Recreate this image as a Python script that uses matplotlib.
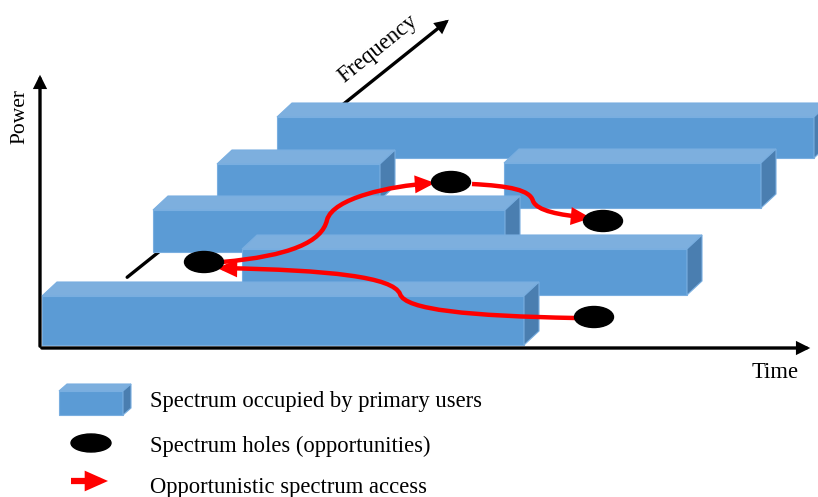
import matplotlib.pyplot as plt
from matplotlib.patches import Polygon, Ellipse, FancyArrowPatch
from matplotlib.path import Path

# Diagram coordinates in pixels (y grows downward)
box_left = [277, 504, 217, 153, 242, 42]
box_right = [814, 761, 380, 505, 687, 524]
box_top = [117, 163, 164, 210, 249, 296]
box_bottom = [158, 208, 200, 252, 295, 345]

hole_x = [204, 451, 603, 594]
hole_y = [262, 182, 221, 317]

# opportunistic access paths: start, ctrl, ctrl, mid, ctrl, ctrl, end
access_paths = [
    [(575, 318), (470, 316), (405, 310), (400, 294), (393, 277), (330, 270), (217, 268)],
    [(222, 262), (290, 256), (322, 242), (327, 220), (333, 198), (390, 186), (435, 183)],
    [(472, 184), (510, 186), (530, 190), (533, 201), (537, 211), (560, 215), (591, 218)],
]

legend_labels = ['Spectrum occupied by primary users',
                 'Spectrum holes (opportunities)',
                 'Opportunistic spectrum access']

FRONT = '#5B9BD5'
TOP = '#7DAFDE'
SIDE = '#4A7EB0'
EDGE = '#79AEE0'


def draw_box(ax, x0, x1, yt, yb, dx=15, dy=14):
    front = [(x0, yt), (x1, yt), (x1, yb), (x0, yb)]
    top = [(x0, yt), (x0 + dx, yt - dy), (x1 + dx, yt - dy), (x1, yt)]
    side = [(x1, yt), (x1 + dx, yt - dy), (x1 + dx, yb - dy), (x1, yb)]
    for pts, c in [(front, FRONT), (top, TOP), (side, SIDE)]:
        ax.add_patch(Polygon(pts, closed=True, facecolor=c, edgecolor=EDGE, lw=0.8, zorder=2))


fig = plt.figure(figsize=(8.18, 4.97), dpi=100)
ax = fig.add_axes([0, 0, 1, 1])
ax.set_xlim(0, 818)
ax.set_ylim(497, 0)
ax.axis('off')

serif = 'Liberation Serif'
fs = 16.3

# axes arrows
axis_arrow = dict(arrowstyle='-|>,head_length=0.32,head_width=0.16', lw=2.4,
                  color='black', mutation_scale=20, joinstyle='miter')
ax.annotate('', xy=(40, 72), xytext=(40, 349), arrowprops=axis_arrow, zorder=1)
ax.annotate('', xy=(813, 348), xytext=(39, 348), arrowprops=axis_arrow, zorder=3)
ax.annotate('', xy=(451, 18), xytext=(125, 279), arrowprops=axis_arrow, zorder=1)

ax.text(20, 117, 'Power', rotation=90, ha='center', va='center', family=serif, fontsize=15.5)
ax.text(378, 49, 'Frequency', rotation=39, ha='center', va='center', family=serif, fontsize=fs)
ax.text(775, 372, 'Time', ha='center', va='center', family=serif, fontsize=fs)

# spectrum blocks, back to front
for x0, x1, yt, yb in zip(box_left, box_right, box_top, box_bottom):
    draw_box(ax, x0, x1, yt, yb)

# access arrows
codes = [Path.MOVETO] + [Path.CURVE4] * 6
red_head = '-|>,head_length=0.45,head_width=0.2'
for pts in access_paths:
    arr = FancyArrowPatch(path=Path(pts, codes), arrowstyle=red_head,
                          color='#FF0000', lw=3.2, mutation_scale=20, zorder=5,
                          joinstyle='miter', capstyle='butt')
    ax.add_patch(arr)

# spectrum holes
for x, y in zip(hole_x, hole_y):
    ax.add_patch(Ellipse((x, y), 39, 21, facecolor='black', edgecolor='black', zorder=6))

# legend
draw_box(ax, 59, 123, 391, 415, dx=8, dy=7)
ax.add_patch(Ellipse((91, 443), 40, 18, facecolor='black', edgecolor='black'))
ax.annotate('', xy=(108, 481), xytext=(71, 481),
            arrowprops=dict(arrowstyle=red_head, lw=4.5, color='#FF0000',
                            mutation_scale=20, joinstyle='miter', capstyle='butt',
                            shrinkA=0, shrinkB=0))
for y, lab in zip([401, 446, 487], legend_labels):
    ax.text(150, y, lab, ha='left', va='center', family=serif, fontsize=fs)

fig.savefig('out.png', dpi=100)
